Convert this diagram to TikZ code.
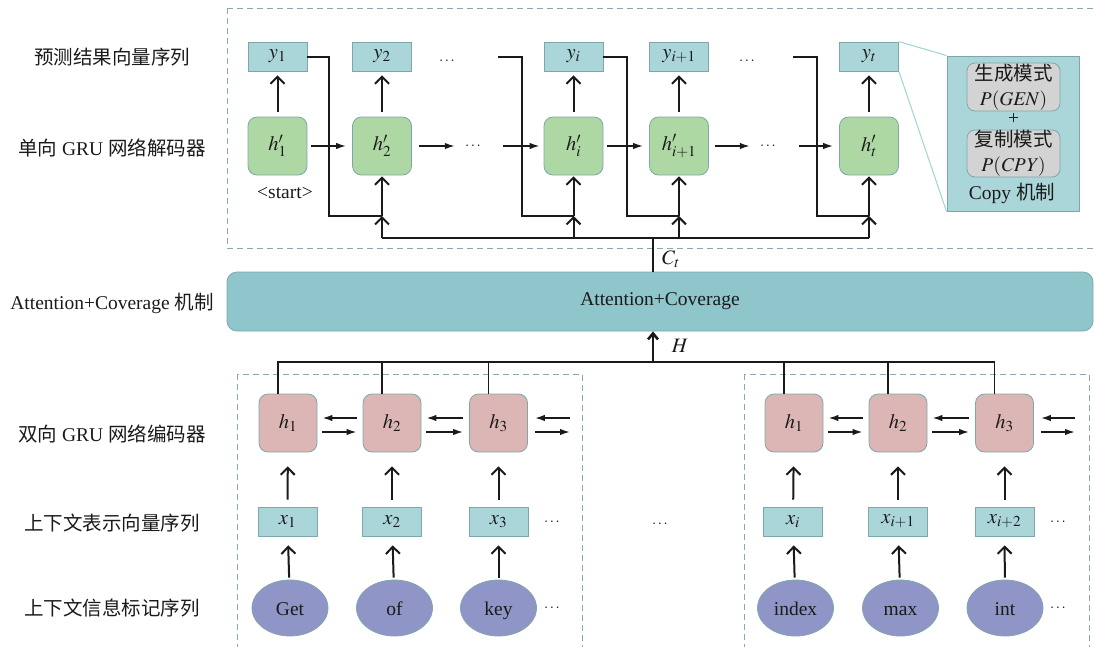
\documentclass[tikz,border=0pt]{standalone}
\usepackage{mathptmx}
\usepackage{fontspec}
\setmainfont{Liberation Serif}
\newfontfamily\cjk{Noto Sans CJK SC}
\usetikzlibrary{arrows.meta,shapes.geometric}
\definecolor{tealc}{HTML}{AAD6DA}
\definecolor{greenc}{HTML}{ADD8A4}
\definecolor{pinkc}{HTML}{DCB6B4}
\definecolor{ellc}{HTML}{9095C8}
\definecolor{attc}{HTML}{8EC6CB}
\definecolor{bordc}{HTML}{7FA6AB}
\definecolor{dashc}{HTML}{8AA9AE}
\definecolor{grayc}{HTML}{D3D3D3}
\definecolor{zoomc}{HTML}{9FD3D6}
\definecolor{inkc}{HTML}{1A1A1A}
\newcommand\smdots{{\fontsize{15}{15}\selectfont$\cdots$}}
\tikzset{
  mathfont/.style={font=\fontsize{20.5}{24}\selectfont},
  sqbox/.style={draw=bordc, fill=tealc, line width=0.8pt, minimum width=59pt, minimum height=29pt, inner sep=0pt, mathfont},
  decbox/.style={draw=bordc, fill=greenc, line width=0.8pt, rounded corners=9pt, minimum width=59pt, minimum height=58pt, inner sep=0pt, mathfont},
  encbox/.style={draw=bordc, fill=pinkc, line width=0.8pt, rounded corners=9pt, minimum width=58pt, minimum height=58pt, inner sep=0pt, mathfont},
  tok/.style={ellipse, draw=bordc, fill=ellc, line width=0.8pt, minimum width=76pt, minimum height=56pt, inner sep=0pt, text height=16pt, text depth=2pt},
  dashbox/.style={draw=dashc, line width=1pt, dash pattern=on 6pt off 4pt},
  varrow/.style={draw=inkc, line width=2pt, -{Straight Barb[length=7pt,width=14pt]}},
  harrow/.style={draw=inkc, line width=1.6pt, -{Latex[length=10pt,width=6.5pt]}},
  fline/.style={draw=inkc, line width=2pt},
  tline/.style={draw=inkc, line width=1.2pt},
  dotsnode/.style={inner sep=0pt, minimum width=36pt},
}
\begin{document}
\begin{tikzpicture}[x=1pt,y=-1pt, font=\fontsize{19.5}{22}\selectfont, text=inkc]
\useasboundingbox (0,0) rectangle (1094,646);

% dashed frames
\draw[dashbox] (227,8) rectangle (1110,248);
\draw[dashbox] (237,374) rectangle (582,660);
\draw[dashbox] (744,374) rectangle (1089,660);

% left labels
\node (l1) at (112,57) {{\cjk 预测结果向量序列}};
\node (l2) at (112,148) {{\cjk 单向} GRU {\cjk 网络解码器}};
\node (l3) at (112,303) {Attention+Coverage {\cjk 机制}};
\node (l4) at (112,434) {{\cjk 双向} GRU {\cjk 网络编码器}};
\node (l5) at (112,523) {{\cjk 上下文表示向量序列}};
\node (l6) at (112,608) {{\cjk 上下文信息标记序列}};

% decoder outputs
\node[sqbox] (y1) at (277.5,56.5) {$y_1$};
\node[sqbox] (y2) at (382,56.5) {$y_2$};
\node[sqbox] (yi) at (573.5,56.5) {$y_i$};
\node[sqbox] (yi1) at (679,56.5) {$y_{i+1}$};
\node[sqbox] (yt) at (869,56.5) {$y_t$};
\node (yd1) at (447,61) {\smdots};
\node (yd2) at (747,61) {\smdots};

% decoder states
\node[decbox] (hp1) at (277.5,146) {$h'_1$};
\node[decbox] (hp2) at (382,146) {$h'_2$};
\node[decbox] (hpi) at (573.5,146) {$h'_i$};
\node[decbox] (hpi1) at (679,146) {$h'_{i+1}$};
\node[decbox] (hpt) at (869,146) {$h'_t$};
\node[dotsnode] (hd1) at (473,146) {\smdots};
\node[dotsnode] (hd2) at (768,146) {\smdots};
\node (start) at (285,193) {<start>};

% vertical arrows h' -> y
\foreach \a/\b in {hp1/y1,hp2/y2,hpi/yi,hpi1/yi1,hpt/yt}
  \draw[varrow, shorten <=5pt, shorten >=4pt] (\a) -- (\b);

% horizontal decoder arrows
\draw[harrow, shorten <=4pt, shorten >=6pt] (hp1) -- (hp2);
\draw[harrow, shorten <=7pt] (hp2) -- (hd1);
\draw[harrow, shorten <=12pt, shorten >=4pt] (hd1) -- (hpi);
\draw[harrow, shorten <=4pt, shorten >=6pt] (hpi) -- (hpi1);
\draw[harrow, shorten <=6pt] (hpi1) -- (hd2);
\draw[harrow, shorten <=13pt, shorten >=6pt] (hd2) -- (hpt);

% feedback coordinates
\coordinate (J2) at (382,216);
\coordinate (Ji) at (573.5,216);
\coordinate (Ji1) at (679,216);
\coordinate (Jt) at (869,216);
\coordinate (B2) at (382,238);
\coordinate (Bi) at (573.5,238);
\coordinate (Bi1) at (679,238);
\coordinate (Bt) at (869,238);
\coordinate (F2) at (498,57);
\coordinate (F4) at (793,57);

\draw[fline] (y1.east) -| (329,216) -- (J2);
\draw[fline] (F2) -| (522,216) -- (Ji);
\draw[fline] (yi.east) -| (627,216) -- (Ji1);
\draw[fline] (F4) -| (817,216) -- (Jt);

\foreach \j/\h in {J2/hp2,Ji/hpi,Ji1/hpi1,Jt/hpt}
  \draw[varrow, shorten >=1pt] (\j) -- (\h);
\foreach \b/\j in {B2/J2,Bi/Ji,Bi1/Ji1,Bt/Jt}
  \draw[varrow] (\b) -- (\j);
\draw[tline, line width=1.6pt] (B2) -- (Bt);

% attention
\node[draw=bordc, fill=attc, line width=0.8pt, rounded corners=10pt, minimum width=866pt, minimum height=59pt, inner sep=0pt] (att) at (660,301.5) {Attention+Coverage};
\coordinate (Ct) at (653,238);
\draw[tline] (Ct) -- (Ct |- att.north);
\node[mathfont] (ctl) at (671,259) {$C_t$};
\coordinate (Hc) at (653,362);
\draw[draw=inkc, line width=2.6pt, -{Straight Barb[length=6pt,width=10pt]}] (Hc) -- (Hc |- att.south);
\node[mathfont] (hl) at (680,346) {$H$};

% encoder
\node[encbox] (a1) at (288,423) {$h_1$};
\node[encbox] (a2) at (392,423) {$h_2$};
\node[encbox] (a3) at (498.5,423) {$h_3$};
\node[encbox] (b1) at (794,423) {$h_1$};
\node[encbox] (b2) at (898,423) {$h_2$};
\node[encbox] (b3) at (1004.5,423) {$h_3$};

\draw[tline, line width=1.4pt] ([xshift=-10pt]a1.north) |- (Hc);
\draw[tline, line width=1.4pt] ([xshift=-10pt]b3.north) |- (Hc);
\foreach \n in {a2,a3,b1,b2}
  \draw[tline, line width=1.4pt] ([xshift=-10pt]\n.north) -- ++(0,-32);

\foreach \l/\r in {a1/a2,a2/a3,b1/b2,b2/b3}{
  \draw[harrow, shorten <=6pt, shorten >=5pt] ([yshift=5pt]\r.west) -- ([yshift=5pt]\l.east);
  \draw[harrow, shorten <=5pt, shorten >=6pt] ([yshift=-9pt]\l.east) -- ([yshift=-9pt]\r.west);
}
\coordinate (ea) at (570,418);
\coordinate (eb) at (570,432);
\coordinate (ec) at (1075,418);
\coordinate (ed) at (1075,432);
\draw[harrow, shorten >=7pt] (ea) -- (ea -| a3.east);
\draw[harrow, shorten <=7pt] (eb -| a3.east) -- (eb);
\draw[harrow, shorten >=7pt] (ec) -- (ec -| b3.east);
\draw[harrow, shorten <=7pt] (ed -| b3.east) -- (ed);

% embeddings
\node[sqbox] (x1) at (287.5,521.5) {$x_1$};
\node[sqbox] (x2) at (392,521.5) {$x_2$};
\node[sqbox] (x3) at (498.5,521.5) {$x_3$};
\node[sqbox] (xi) at (793,521.5) {$x_i$};
\node[sqbox] (xi1) at (898,521.5) {$x_{i+1}$};
\node[sqbox] (xi2) at (1004.5,521.5) {$x_{i+2}$};
\node (xd1) at (552,522) {\smdots};
\node (xd2) at (1058,522) {\smdots};
\node (md) at (660,524) {\smdots};

% tokens
\node[tok] (t1) at (290,608) {Get};
\node[tok] (t2) at (394.5,608) {of};
\node[tok] (t3) at (498.5,608) {key};
\node[tok] (t4) at (795.5,608) {index};
\node[tok] (t5) at (900.5,608) {max};
\node[tok] (t6) at (1005,608) {int};
\node (td1) at (552,608) {\smdots};
\node (td2) at (1058,608) {\smdots};

\foreach \x/\h in {x1/a1,x2/a2,x3/a3,xi/b1,xi1/b2,xi2/b3}
  \draw[varrow, shorten <=7pt, shorten >=14pt] (\x) -- (\h);
\foreach \t/\x in {t1/x1,t2/x2,t3/x3,t4/xi,t5/xi1,t6/xi2}
  \draw[varrow, shorten <=2pt, shorten >=9pt] (\t) -- (\x);

% copy mechanism
\node[draw=bordc, fill=tealc, line width=1pt, minimum width=132pt, minimum height=155pt, inner sep=0pt] (cp) at (1013,133.5) {};
\draw[draw=zoomc, line width=1pt] (yt.north east) -- (cp.north west);
\draw[draw=zoomc, line width=1pt] (yt.south east) -- (cp.south west);
\node[draw=bordc, fill=grayc, line width=0.8pt, rounded corners=8pt, minimum width=93pt, minimum height=48pt, inner sep=0pt, align=center, font=\fontsize{19.5}{25}\selectfont] (gen) at (1013.5,87) {{\cjk 生成模式}\\$P(\mathit{GEN})$};
\node (plus) at (1013.5,119) {+};
\node[draw=bordc, fill=grayc, line width=0.8pt, rounded corners=8pt, minimum width=93pt, minimum height=47pt, inner sep=0pt, align=center, font=\fontsize{19.5}{25}\selectfont] (cpy) at (1013.5,153.5) {{\cjk 复制模式}\\$P(\mathit{CPY})$};
\node (cl) at (1012,193) {Copy {\cjk 机制}};
\end{tikzpicture}
\end{document}
